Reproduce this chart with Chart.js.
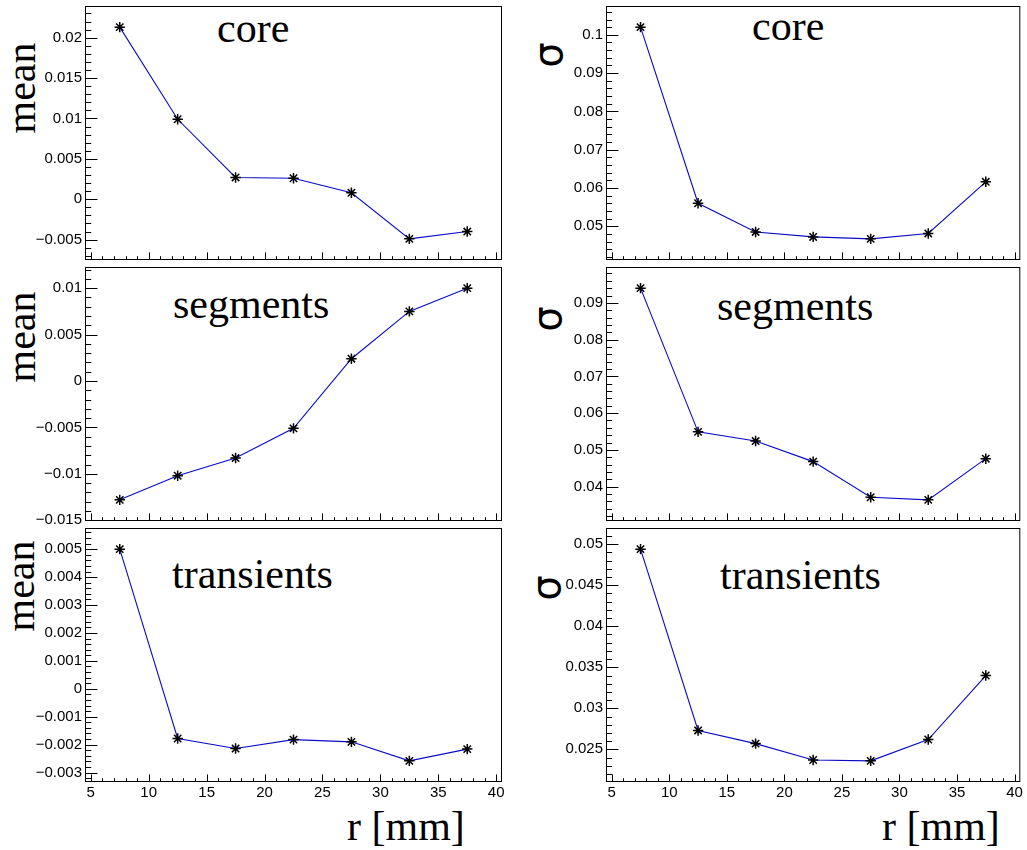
<!DOCTYPE html>
<html>
<head>
<meta charset="utf-8">
<title>mean and sigma vs r</title>
<script src="https://cdn.jsdelivr.net/npm/chart.js@4.4.1/dist/chart.umd.min.js"></script>
<style>
  body { margin: 0; background: #fff; }
  #page { position: relative; width: 1027px; height: 850px; overflow: hidden; background: #fff; }
  canvas { position: absolute; }
  .lbl { position: absolute; font-family: "Liberation Serif", "Times New Roman", serif; font-size: 42px; line-height: 42px; white-space: nowrap; color: #000; }
  .rot { transform: translate(-50%, -50%) rotate(-90deg); }
  .sig { font-family: "DejaVu Sans", sans-serif; font-size: 40px; line-height: 40px; }
</style>
</head>
<body>
<div id="page">
  <!-- panel names -->
  <div class="lbl" style="left:217px; top:7px;">core</div>
  <div class="lbl" style="left:752px; top:5px;">core</div>
  <div class="lbl" style="left:173px; top:283px;">segments</div>
  <div class="lbl" style="left:717px; top:285px;">segments</div>
  <div class="lbl" style="left:172px; top:553px;">transients</div>
  <div class="lbl" style="left:720px; top:554px;">transients</div>

  <!-- y titles -->
  <div class="lbl rot" style="left:21px; top:88px;">mean</div>
  <div class="lbl rot" style="left:21px; top:337px;">mean</div>
  <div class="lbl rot" style="left:20px; top:586px;">mean</div>
  <div class="lbl rot sig" style="left:548px; top:55px;">σ</div>
  <div class="lbl rot sig" style="left:547px; top:319px;">σ</div>
  <div class="lbl rot sig" style="left:546px; top:588px;">σ</div>

  <!-- x titles -->
  <div class="lbl" style="left:347px; top:805px;">r [mm]</div>
  <div class="lbl" style="left:882px; top:805px;">r [mm]</div>
</div>

<script>
// ---------- dados ----------
const radius = [7.5, 12.5, 17.5, 22.5, 27.5, 32.5, 37.5];

const coreMean   = [0.0213, 0.0099, 0.0027, 0.0026, 0.0008, -0.0049, -0.0040];
const segMean    = [-0.0128, -0.0102, -0.0083, -0.0051, 0.0024, 0.0075, 0.0100];
const transMean  = [0.0050, -0.00178, -0.00214, -0.00182, -0.00190, -0.00258, -0.00216];

const coreSigma  = [0.1020, 0.0560, 0.0485, 0.0472, 0.0467, 0.0481, 0.0616];
const segSigma   = [0.0940, 0.0549, 0.0524, 0.0468, 0.0371, 0.0364, 0.0476];
const transSigma = [0.0494, 0.0273, 0.0257, 0.0237, 0.0236, 0.0262, 0.0340];

// major tick steps (minor = step / 5)
const meanSteps  = [0.005, 0.005, 0.001];
const sigmaSteps = [0.01, 0.01, 0.005];
const xStep = 5;

// ---------- layout ----------
const rowTops = [6, 267, 528];
const FRAME_H = 254;
const PAD = 12;
const cols = [
  { left: 0,   width: 510, axisW: 85, padRight: 8, series: [coreMean, segMean, transMean],    steps: meanSteps },
  { left: 510, width: 517, axisW: 96, padRight: 4, series: [coreSigma, segSigma, transSigma], steps: sigmaSteps }
];

// same auto range as ROOT's TGraph: 10% margin on each side
function rootRange(vals) {
  const lo = Math.min(...vals), hi = Math.max(...vals), d = hi - lo;
  return [lo - 0.1 * d, hi + 0.1 * d];
}

function fmt(v) {
  return String(parseFloat(v.toFixed(6))).replace('-', '\u2212');
}

// frame + inward ticks, ROOT style
const rootAxes = {
  id: 'rootAxes',
  afterDatasetsDraw(chart, args, opts) {
    const { ctx, chartArea: a } = chart;
    const xs = chart.scales.x, ys = chart.scales.y;
    const w = a.right - a.left, h = a.bottom - a.top;
    ctx.save();
    ctx.strokeStyle = '#000';
    ctx.lineWidth = 1;
    ctx.strokeRect(a.left + 0.5, a.top + 0.5, w - 1, h - 1);
    ctx.beginPath();
    const yMinor = opts.yStep / 5;
    for (let k = Math.ceil(ys.min / yMinor - 1e-9); k * yMinor <= ys.max + 1e-12; k++) {
      const py = Math.round(ys.getPixelForValue(k * yMinor)) + 0.5;
      const len = (k % 5 === 0 ? 0.03 : 0.015) * w;
      ctx.moveTo(a.left, py);
      ctx.lineTo(a.left + len, py);
    }
    const xMinor = xStep / 5;
    for (let k = Math.ceil(xs.min / xMinor - 1e-9); k * xMinor <= xs.max + 1e-12; k++) {
      const px = Math.round(xs.getPixelForValue(k * xMinor)) + 0.5;
      const len = (k % 5 === 0 ? 0.03 : 0.015) * h;
      ctx.moveTo(px, a.bottom);
      ctx.lineTo(px, a.bottom - len);
    }
    ctx.stroke();
    ctx.restore();
  }
};

const page = document.getElementById('page');
const [xMin, xMax] = rootRange(radius);

cols.forEach((col, c) => {
  col.series.forEach((vals, r) => {
    const bottomRow = r === 2;
    const cvH = PAD + FRAME_H + (bottomRow ? 30 : PAD);
    const cv = document.createElement('canvas');
    cv.width = col.width;
    cv.height = cvH;
    cv.style.left = col.left + 'px';
    cv.style.top = (rowTops[r] - PAD) + 'px';
    cv.style.width = col.width + 'px';
    cv.style.height = cvH + 'px';
    page.appendChild(cv);

    const [yMin, yMax] = rootRange(vals);
    const step = col.steps[r];

    new Chart(cv.getContext('2d'), {
      type: 'line',
      data: {
        datasets: [{
          data: radius.map((x, i) => ({ x: x, y: vals[i] })),
          borderColor: 'rgb(10,10,200)',
          borderWidth: 1.1,
          tension: 0,
          pointStyle: 'star',
          pointRadius: 5.2,
          pointBorderColor: '#000',
          pointBackgroundColor: '#000',
          pointBorderWidth: 1.5,
          clip: false
        }]
      },
      options: {
        responsive: false,
        animation: false,
        events: [],
        layout: { padding: { top: PAD, right: col.padRight, bottom: bottomRow ? 0 : PAD, left: 0 } },
        plugins: {
          legend: { display: false },
          tooltip: { enabled: false },
          rootAxes: { yStep: step }
        },
        scales: {
          x: {
            type: 'linear',
            min: xMin,
            max: xMax,
            grid: { display: false, drawTicks: false },
            border: { display: false },
            ticks: {
              display: bottomRow,
              stepSize: xStep,
              includeBounds: false,
              autoSkip: false,
              maxRotation: 0,
              padding: 2,
              color: '#000',
              font: { family: 'Liberation Sans, Arial, sans-serif', size: 15 },
              callback: v => fmt(v)
            },
            afterFit(s) { s.height = bottomRow ? 30 : 0; }
          },
          y: {
            type: 'linear',
            min: yMin,
            max: yMax,
            grid: { display: false, drawTicks: false },
            border: { display: false },
            ticks: {
              stepSize: step,
              includeBounds: false,
              autoSkip: false,
              padding: 3,
              color: '#000',
              font: { family: 'Liberation Sans, Arial, sans-serif', size: 15 },
              callback: v => fmt(v)
            },
            afterFit(s) { s.width = col.axisW; }
          }
        }
      },
      plugins: [rootAxes]
    });
  });
});
</script>
</body>
</html>
